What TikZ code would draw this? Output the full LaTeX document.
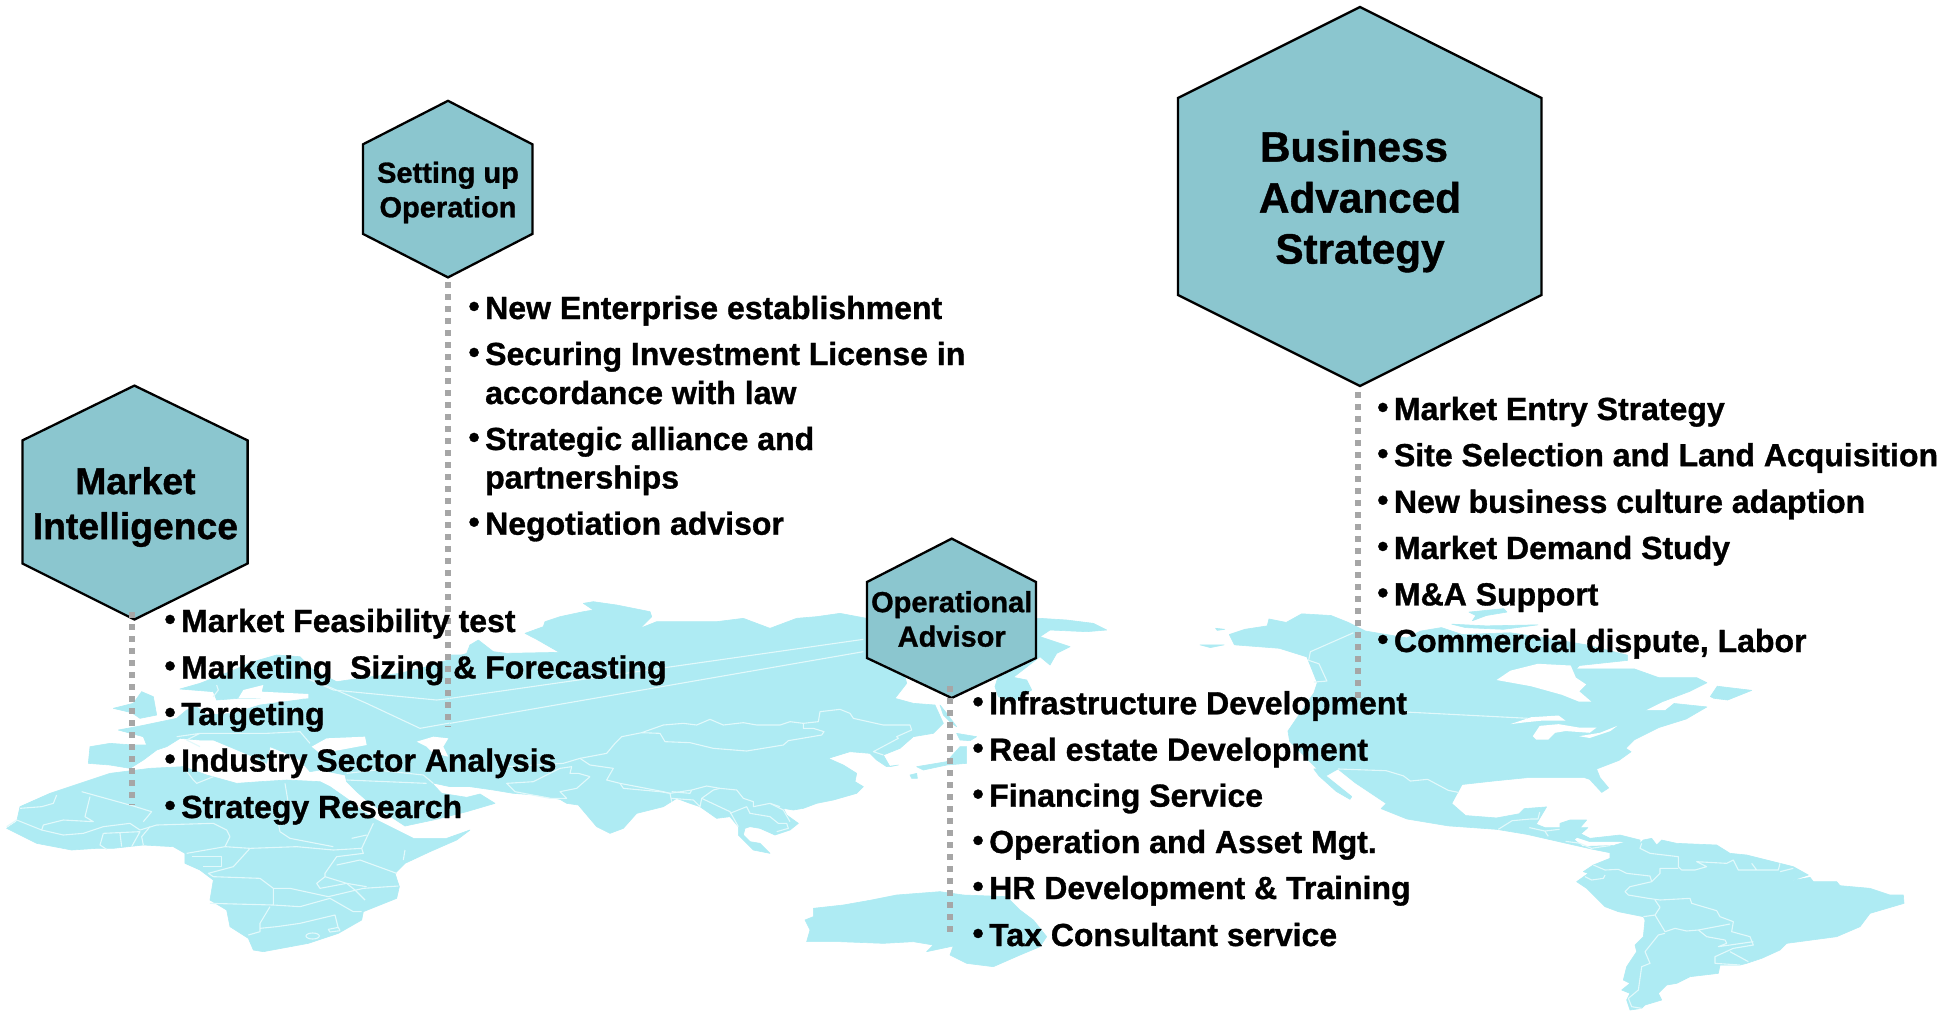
\documentclass[tikz,border=0pt]{standalone}
\usepackage{fontspec}
\setmainfont{Liberation Sans}[BoldFont={Liberation Sans Bold},BoldFeatures={FakeBold=1}]
\definecolor{landc}{HTML}{AEEBF3}
\definecolor{borderc}{HTML}{E2F9FB}
\definecolor{hexc}{HTML}{8BC6CF}
\definecolor{dotc}{HTML}{A6A6A6}
\newcommand{\bul}{\llap{\raisebox{2pt}{•}\hspace{5.5pt}}}
\tikzset{
 land/.style={fill=landc,draw=landc,line width=.6pt,line join=round},
 sea/.style={fill=white,draw=none},
 bord/.style={draw=borderc,line width=1.1pt,line join=round},
 hexa/.style={fill=hexc,draw=black,line width=2.3pt,line join=miter},
 dotline/.style={draw=dotc,line width=6pt,dash pattern=on 6pt off 6pt},
 listitem/.style={anchor=base west,inner sep=0pt,font=\bfseries\fontsize{32}{36}\selectfont},
 hexlabel/.style={inner sep=0pt,align=center,font=\bfseries\fontsize{29}{34.5}\selectfont},
 midlabel/.style={inner sep=0pt,align=center,font=\bfseries\fontsize{37.3}{45}\selectfont},
 biglabel/.style={inner sep=0pt,align=center,font=\bfseries\fontsize{42.3}{51}\selectfont},
}
\begin{document}
\begin{tikzpicture}[x=1pt,y=-1pt]
\useasboundingbox (0,0) rectangle (1951,1013);
\fill[white] (0,0) rectangle (1951,1013);
% ---------- map: Europe, Africa, Middle East
\begin{scope}[shift={(0,590)},x=.33333pt,y=-.33333pt]
 \path[land] (540,297)--(600,280)--(690,245)--(760,215)--(830,195)--(900,200)--(940,240)--(1010,275)--(1100,262)--(1200,250)--(1300,225)--(1400,190)--(1410,165)--(1500,200)--(1500,400)--(1000,400)--(935,325)--(715,325)--(650,330)--(640,305)--cycle;
 \path[land] (355,420)--(420,408)--(530,385)--(560,360)--(590,350)--(620,375)--(700,370)--(780,345)--(930,325)--(1000,340)--(1500,340)--(1500,590)--(1420,590)--(1350,590)--(1295,578)--(1325,610)--(1400,622)--(1440,612)--(1485,640)--(1400,665)--(1300,690)--(1215,708)--(1180,685)--(1110,640)--(1070,605)--(1040,575)--(1035,555)--(960,540)--(930,545)--(900,510)--(860,490)--(810,470)--(800,520)--(760,500)--(700,475)--(640,450)--(600,450)--(540,445)--(500,470)--(470,480)--(430,510)--(390,535)--(330,525)--(265,520)--(270,470)--(330,460)--(400,465)--(440,465)--(430,440)--cycle;
 \path[land] (340,355)--(400,340)--(425,305)--(460,320)--(470,375)--(420,385)--(395,368)--cycle;
 \path[land] (20,715)--(50,695)--(60,650)--(150,610)--(240,580)--(330,550)--(450,535)--(550,530)--(620,555)--(710,580)--(780,575)--(860,570)--(960,575)--(990,590)--(1040,625)--(1090,665)--(1130,690)--(1190,720)--(1240,745)--(1340,745)--(1410,720)--(1370,750)--(1290,785)--(1215,820)--(1185,850)--(1198,890)--(1190,925)--(1090,965)--(1085,990)--(1015,1030)--(925,1060)--(790,1085)--(760,1080)--(745,1045)--(690,1010)--(680,960)--(630,930)--(640,870)--(600,840)--(555,820)--(555,790)--(520,770)--(430,765)--(340,775)--(290,775)--(215,780)--(110,760)--cycle;
 \path[sea] (715,325)--(730,300)--(790,285)--(785,305)--(925,312)--(925,325)--(850,330)--(760,325)--cycle;
 \path[sea] (935,470)--(980,445)--(1095,440)--(1100,465)--(1020,480)--(960,490)--cycle;
 \path[sea] (1250,455)--(1300,440)--(1345,445)--(1330,470)--(1345,500)--(1300,490)--(1280,470)--cycle;
 \path[bord] (245,605)--(400,648)--(455,665)--(430,695);
 \path[bord] (170,615)--(160,640)--(125,650)--(60,655);
 \path[bord] (270,620)--(255,680)--(280,695)--(190,690)--(130,705)--(125,720)--(50,690)--(20,710);
 \path[bord] (125,720)--(190,735)--(250,730)--(310,710)--(390,700)--(420,720)--(470,705)--(640,700)--(680,720)--(690,740)--(675,770)--(560,790);
 \path[bord] (310,730)--(420,725)--(395,770) (360,730)--(365,770) (310,730)--(300,765)--(320,778) (450,710)--(425,740)--(430,765);
 \path[bord] (675,770)--(750,775)--(890,770)--(1000,780)--(1085,775)--(1090,790)--(1010,800)--(975,850)--(975,860)--(1040,880)--(1100,890);
 \path[bord] (855,580)--(865,640)--(835,700)--(840,725)--(870,745)--(1000,770);
 \path[bord] (575,800)--(665,800)--(665,830)--(610,830);
 \path[bord] (750,775)--(700,830)--(625,850)--(640,860)--(780,865)--(820,895)--(820,945)--(630,940);
 \path[bord] (820,895)--(870,895)--(985,920)--(1090,895)--(1195,888);
 \path[bord] (975,860)--(950,880)--(960,895)--(1040,880)--(1065,900)--(1095,930);
 \path[bord] (820,945)--(900,950)--(990,925)--(1060,965)--(1085,965);
 \path[bord] (810,950)--(780,1000)--(780,1025)--(745,1035);
 \path[bord] (780,1015)--(830,1010)--(900,1000)--(1005,975)--(1015,1015);
 \path[bord] (1190,850)--(1080,810)--(1010,825) (1215,780)--(1210,810);
 \path[bord] (1085,775)--(1120,700) (1100,735)--(1055,745);
 \path[bord] (938,1038) ellipse [x radius=20,y radius=9];
 \path[bord] (985,1018)--(1015,1012)--(1020,1022)--(990,1026)--cycle;
 \path[bord] (550,530)--(580,570)--(590,580)--(640,560);
 \path[bord] (530,440)--(600,430)--(700,430)--(800,430)--(900,425)--(930,460) (600,430)--(560,450)--(600,470);
 \path[bord] (650,285)--(655,300)--(640,320);
 \path[bord] (1040,570)--(1280,580) (1040,550)--(1130,540)--(1270,555)--(1300,580);
 \path[bord] (920,265)--(1000,300)--(1310,330)--(1400,320);
 \path[bord] (940,270)--(1100,340)--(1260,415)--(1400,390);
\end{scope}
% ---------- map: Asia
\begin{scope}[shift={(450,590)},x=.33333pt,y=-.33333pt]
 \path[land] (0,195)--(60,195)--(60,165)--(85,150)--(130,185)--(170,190)--(328,187)--(260,148)--(225,130)--(280,110)--(285,95)--(330,80)--(400,65)--(430,60)--(400,40)--(430,35)--(500,45)--(600,65)--(605,80)--(570,115)--(620,95)--(800,95)--(880,85)--(960,115)--(1040,85)--(1100,80)--(1170,70)--(1250,85)--(1350,200)--(1370,280)--(1335,325)--(1390,340)--(1455,345)--(1480,400)--(1450,430)--(1390,440)--(1350,475)--(1300,495)--(1320,530)--(1345,525)--(1310,530)--(1280,510)--(1260,490)--(1200,485)--(1135,505)--(1180,525)--(1220,550)--(1215,575)--(1240,590)--(1220,610)--(1150,630)--(1100,640)--(1060,655)--(1030,660)--(1000,655)--(1010,675)--(1045,700)--(1020,720)--(975,735)--(930,715)--(900,710)--(885,715)--(880,735)--(900,755)--(930,760)--(960,790)--(910,780)--(880,750)--(865,735)--(865,710)--(840,680)--(800,685)--(750,650)--(720,640)--(680,625)--(640,650)--(560,670)--(520,715)--(480,730)--(440,710)--(385,645)--(350,640)--(330,628)--(260,615)--(190,610)--(130,600)--(60,590)--(0,590)--cycle;
 \path[bord] (0,325)--(1240,148) (0,400)--(1240,185);
 \path[bord] (170,530)--(340,520)--(390,505)--(470,490)--(495,460)--(515,440)--(575,428)--(640,405)--(700,400)--(740,405)--(780,388)--(820,405)--(880,398)--(920,405)--(990,405)--(1020,395)--(1060,400)--(1105,395)--(1110,365)--(1170,358)--(1200,370)--(1210,385)--(1300,405)--(1380,405)--(1385,420)--(1340,440)--(1345,445)--(1270,485)--(1300,495);
 \path[bord] (575,428)--(630,430)--(645,455)--(720,458)--(790,475)--(890,483)--(1000,465)--(1015,452)--(1115,435)--(1122,425)--(1090,415)--(1060,415)--(1060,400);
 \path[bord] (390,505)--(420,525)--(490,535)--(470,570)--(510,580)--(640,605)--(660,610)--(725,600)--(770,588)--(810,595)--(860,600)--(880,625)--(910,635)--(910,650)--(960,640)--(990,650);
 \path[bord] (510,580)--(520,595)--(630,605)--(660,610)--(665,635) (725,600)--(720,610)--(665,605) (665,625)--(730,630)--(750,650)--(755,625)--(790,600)--(810,595);
 \path[bord] (755,625)--(840,665)--(865,710) (840,670)--(890,650)--(900,670)--(960,680)--(985,700)--(1010,700)--(1015,715)--(980,725) (960,640)--(1000,660)--(1020,695);
 \path[bord] (420,560)--(380,595)--(330,605)--(350,625)--(300,625)--(195,605)--(170,580)--(250,575)--(330,535)--(365,530)--(360,550)--(385,550)--(420,560);
\end{scope}
% ---------- map: East Asia, Australia
\begin{scope}[shift={(800,590)},x=.33333pt,y=-.33333pt]
 \path[land] (585,290)--(640,262)--(720,200)--(750,225)--(770,190)--(810,170)--(720,140)--(750,120)--(860,125)--(920,120)--(880,100)--(800,90)--(720,85)--(600,85)--(450,130)--(600,240)--cycle;
 \path[land] (585,290)--(640,262)--(680,270)--(695,300)--(640,335)--(595,320)--cycle;
 \path[land] (330,555)--(350,550)--(352,565)--(335,565)--cycle;
 \path[land] (350,530)--(440,515)--(480,470)--(500,470)--(500,520)--(440,525)--(370,540)--cycle;
 \path[land] (470,430)--(530,440)--(510,452)--(480,450)--cycle;
 \path[land] (420,345)--(440,370)--(470,410)--(455,400)--(430,375)--cycle;
 \path[land] (40,955)--(130,945)--(215,930)--(290,915)--(420,905)--(490,915)--(620,920)--(660,960)--(700,990)--(740,1040)--(720,1070)--(660,1095)--(580,1130)--(500,1120)--(450,1095)--(460,1068)--(380,1085)--(400,1065)--(340,1055)--(250,1060)--(120,1055)--(20,1055)--(30,1020)--(15,990)--(40,980)--cycle;
\end{scope}
% ---------- map: North America
\begin{scope}[shift={(1200,600)},x=.34483pt,y=-.34483pt]
 \path[land] (85,100)--(130,85)--(195,75)--(200,55)--(250,65)--(295,40)--(380,45)--(430,65)--(480,90)--(600,110)--(640,90)--(700,80)--(760,100)--(900,95)--(1000,110)--(1120,130)--(1240,160)--(1240,175)--(1100,190)--(1090,200)--(1260,200)--(1330,225)--(1440,225)--(1470,240)--(1420,265)--(1340,295)--(1290,320)--(1350,320)--(1375,300)--(1470,310)--(1410,345)--(1330,370)--(1260,405)--(1235,430)--(1250,440)--(1215,465)--(1150,490)--(1160,515)--(1185,545)--(1165,558)--(1130,520)--(1115,515)--(950,515)--(850,525)--(760,535)--(730,590)--(770,625)--(860,632)--(925,620)--(940,605)--(1005,600)--(975,650)--(1000,660)--(1125,660)--(1085,695)--(1110,715)--(1195,712)--(1240,715)--(1280,730)--(1200,735)--(1135,722)--(1060,705)--(950,680)--(860,665)--(720,655)--(600,635)--(525,605)--(540,590)--(450,530)--(400,490)--(340,490)--(260,410)--(255,380)--(330,270)--(340,240)--(310,165)--(230,140)--(100,130)--cycle;
 \path[land] (330,490)--(400,490)--(365,510)--(440,570)--(435,578)--(395,555)--(345,510)--cycle;
 \path[land] (780,35)--(880,25)--(890,35)--(830,45)--(790,60)--(800,45)--cycle;
 \path[land] (730,70)--(830,75)--(980,72)--(880,85)--(770,80)--cycle;
 \path[land] (1480,280)--(1500,250)--(1600,262)--(1530,290)--(1490,285)--cycle;
 \path[land] (0,130)--(70,130)--(30,138)--cycle;
 \path[land] (45,82)--(72,85)--(50,88)--cycle;
 \path[sea] (860,232)--(900,205)--(980,185)--(1075,190)--(1090,225)--(1120,245)--(1100,265)--(1135,295)--(1100,295)--(1050,275)--(960,250)--cycle;
 \path[sea] (900,360)--(960,340)--(1040,335)--(1060,350)--(990,350)--(940,355)--cycle;
 \path[sea] (985,365)--(1040,360)--(1100,370)--(1150,370)--(1130,385)--(1060,380)--(1030,385)--(1010,405)--(975,405)--(965,395)--cycle;
 \path[sea] (1100,395)--(1160,385)--(1210,365)--(1190,380)--(1130,400)--cycle;
 \path[bord] (445,95)--(320,150)--(315,175)--(345,185)--(368,235)--(330,238);
 \path[bord] (600,325)--(950,343);
 \path[bord] (400,490)--(540,495)--(590,510)--(610,525)--(660,520)--(720,552)--(750,558);
 \path[bord] (865,665)--(905,640)--(960,635)--(980,635)--(985,615) (955,660)--(1000,670)--(1085,660) (1000,670)--(1010,685) (1060,700)--(1100,705)--(1135,720)--(1190,712);
\end{scope}
% ---------- map: South America
\begin{scope}[shift={(1560,820)},x=.33333pt,y=-.33333pt]
 \path[land] (0,10)--(30,0)--(80,0)--(50,35)--(90,55)--(180,45)--(240,60)--(240,70)--(180,65)--(90,65)--(30,45)--(0,40)--cycle;
 \path[land] (150,100)--(165,75)--(200,65)--(240,70)--(250,60)--(275,55)--(290,75)--(305,60)--(350,70)--(470,75)--(510,100)--(560,105)--(620,120)--(700,140)--(745,165)--(690,183)--(750,172)--(760,185)--(830,185)--(840,197)--(930,205)--(990,225)--(1030,225)--(1032,250)--(930,280)--(900,320)--(830,350)--(680,370)--(660,390)--(605,415)--(560,430)--(540,435)--(480,435)--(475,460)--(390,470)--(350,490)--(320,495)--(295,520)--(305,540)--(255,555)--(245,565)--(210,570)--(200,540)--(210,520)--(185,510)--(210,490)--(190,480)--(200,440)--(230,395)--(225,375)--(250,350)--(255,300)--(250,290)--(175,275)--(135,260)--(100,225)--(80,205)--(50,185)--(85,160)--(70,155)--(100,135)--(150,115)--cycle;
 \path[bord] (245,70)--(240,85)--(270,100)--(355,110)--(355,140)--(365,150)--(405,150)--(440,140)--(410,125)--(500,130)--(520,120)--(535,150)--(590,150)--(575,130) (590,150)--(655,150)--(660,130) (660,155)--(700,145);
 \path[bord] (355,145)--(300,145)--(300,160)--(275,185)--(210,200)--(195,215)--(205,225)--(265,235)--(300,240);
 \path[bord] (100,135)--(135,150)--(175,148)--(200,160)--(270,168)--(275,185) (135,165)--(130,175)--(95,180)--(75,170);
 \path[bord] (285,240)--(300,262)--(285,285)--(250,290) (300,240)--(390,235)--(395,250)--(470,272)--(480,290)--(520,305)--(515,335)--(570,350)--(580,375)--(520,385)--(465,410)--(465,430)--(540,435);
 \path[bord] (285,285)--(315,335)--(345,325)--(380,333)--(415,330)--(510,312) (415,330)--(440,350)--(495,360)--(500,370)--(475,380)--(580,365);
 \path[bord] (315,340)--(295,345)--(255,395)--(270,430)--(245,440)--(235,510)--(205,535)--(215,560)--(245,565);
 \path[bord] (510,395)--(565,425);
\end{scope}
% ---------- hexagons
\draw[hexa] (134.4,385.6)--(247.6,440.4)--(247.6,563.5)--(134.4,619.5)--(22.4,563.5)--(22.4,440.4)--cycle;
\draw[hexa] (448,100.8)--(532.4,144.3)--(532.4,233.9)--(448,277.4)--(363,233.9)--(363,144.3)--cycle;
\draw[hexa] (1360,7)--(1541.5,98)--(1541.5,295)--(1360,386)--(1178,295)--(1178,98)--cycle;
\draw[hexa] (951.7,538.6)--(1036,582)--(1036,658)--(951.7,698)--(867,658)--(867,582)--cycle;
% ---------- connectors
\coordinate (miA) at (132,612); \coordinate (miB) at (132,805);
\coordinate (suA) at (448,282); \coordinate (suB) at (448,727);
\coordinate (oaA) at (950,686); \coordinate (oaB) at (950,932);
\coordinate (baA) at (1358,392); \coordinate (baB) at (1358,698);
\draw[dotline] (miA)--(miB);
\draw[dotline] (suA)--(suB);
\draw[dotline] (oaA)--(oaB);
\draw[dotline] (baA)--(baB);
% ---------- hexagon labels
\node[midlabel] (mi) at (135.4,507) {Market\\Intelligence};
\node[hexlabel] (su) at (448,192.5) {Setting up\\Operation};
\node[hexlabel] (oa) at (951.7,619) {Operational\\Advisor};
\node[biglabel] (ba) at (1360,201.7) {Business\kern12pt\\Advanced\\Strategy};
% ---------- lists
\node[listitem] (m1) at (181,632) {\bul Market Feasibility test};
\node[listitem] (m2) at (181,678.5) {\bul Marketing\ \ Sizing \& Forecasting};
\node[listitem] (m3) at (181,725) {\bul Targeting};
\node[listitem] (m4) at (181,771.5) {\bul Industry Sector Analysis};
\node[listitem] (m5) at (181,818) {\bul Strategy Research};
\node[listitem] (s1) at (485,319) {\bul New Enterprise establishment};
\node[listitem] (s2) at (485,365) {\bul Securing Investment License in};
\node[listitem] (s3) at (485,404) {accordance with law};
\node[listitem] (s4) at (485,450) {\bul Strategic alliance and};
\node[listitem] (s5) at (485,488.5) {partnerships};
\node[listitem] (s6) at (485,534.7) {\bul Negotiation advisor};
\node[listitem] (b1) at (1393.8,420) {\bul Market Entry Strategy};
\node[listitem] (b2) at (1393.8,466.2) {\bul Site Selection and Land Acquisition};
\node[listitem] (b3) at (1393.8,512.8) {\bul New business culture adaption};
\node[listitem] (b4) at (1393.8,559) {\bul Market Demand Study};
\node[listitem] (b5) at (1393.8,605.4) {\bul M\&A Support};
\node[listitem] (b6) at (1393.8,652) {\bul Commercial dispute, Labor};
\node[listitem] (o1) at (989,714.3) {\bul Infrastructure Development};
\node[listitem] (o2) at (989,760.7) {\bul Real estate Development};
\node[listitem] (o3) at (989,806.7) {\bul Financing Service};
\node[listitem] (o4) at (989,853) {\bul Operation and Asset Mgt.};
\node[listitem] (o5) at (989,899) {\bul HR Development \& Training};
\node[listitem] (o6) at (989,946) {\bul Tax Consultant service};
\end{tikzpicture}
\end{document}
